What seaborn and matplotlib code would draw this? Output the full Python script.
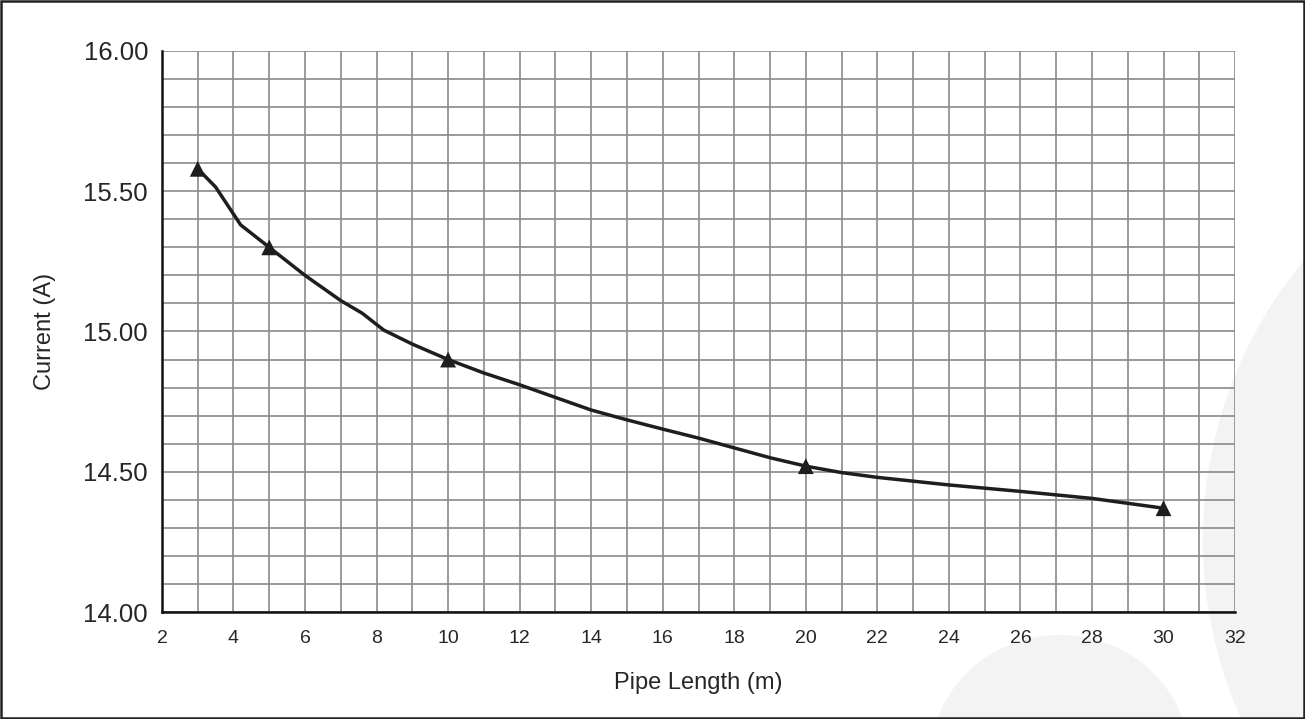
import numpy as np
import pandas as pd
import seaborn as sns
import matplotlib.pyplot as plt
from matplotlib.patches import Rectangle, Ellipse
from matplotlib.ticker import MultipleLocator

sns.set_style('white')
plt.rcParams['font.family'] = ['Liberation Sans', 'DejaVu Sans']

# measured points (triangle markers)
pipe_length = [3, 5, 10, 20, 30]
current = [15.58, 15.30, 14.90, 14.52, 14.37]

# smoothed curve as drawn in the reference
curve_x = [3, 3.5, 4.2, 5, 6, 7, 7.6, 8.2, 9, 10, 11, 12, 13, 14, 15, 16,
           17, 18, 19, 20, 21, 22, 24, 26, 28, 30]
curve_y = [15.58, 15.515, 15.38, 15.30, 15.20, 15.11, 15.065, 15.005, 14.955,
           14.90, 14.852, 14.81, 14.765, 14.72, 14.685, 14.652, 14.62, 14.585,
           14.55, 14.52, 14.497, 14.48, 14.453, 14.43, 14.405, 14.37]

x_ticks = list(range(2, 33, 2))
y_ticks = [14.0, 14.5, 15.0, 15.5, 16.0]

fig = plt.figure(figsize=(13.05, 7.19), dpi=100)

# faint watermark shapes in the lower right corner
fig.patches.append(Ellipse((1.2567, 0.249), 0.670, 1.2156, transform=fig.transFigure,
                           facecolor='#f3f3f3', edgecolor='none', zorder=-5))
fig.patches.append(Ellipse((0.8123, -0.057), 0.1992, 0.3477, transform=fig.transFigure,
                           facecolor='#f3f3f3', edgecolor='none', zorder=-5))

ax = fig.add_axes([0.1241, 0.1488, 0.8223, 0.7803])
ax.set_facecolor('none')

sns.lineplot(x=curve_x, y=curve_y, ax=ax, color='#1e1e1e', linewidth=2.5,
             sort=False, zorder=3)
sns.scatterplot(x=pipe_length, y=current, ax=ax, marker='^', color='#1e1e1e',
                s=130, edgecolor='none', zorder=4)

ax.set_xlim(2, 32)
ax.set_ylim(14.0, 16.0)
ax.set_xticks(x_ticks)
ax.set_yticks(y_ticks)
ax.set_yticklabels([f'{v:.2f}' for v in y_ticks])
ax.xaxis.set_minor_locator(MultipleLocator(1))
ax.yaxis.set_minor_locator(MultipleLocator(0.1))
ax.grid(True, which='both', color='#8a8a8a', linewidth=1.2)
ax.set_axisbelow(True)

for side in ['top', 'right']:
    ax.spines[side].set_visible(False)
for side in ['left', 'bottom']:
    ax.spines[side].set_color('#111111')
    ax.spines[side].set_linewidth(1.8)

ax.tick_params(axis='both', which='major', direction='out', length=7,
               width=1.0, color='#777777')
ax.tick_params(axis='both', which='minor', length=0)
ax.tick_params(axis='y', labelsize=18.5, pad=3)
ax.tick_params(axis='x', labelsize=14, pad=6)

ax.set_xlabel('Pipe Length (m)', fontsize=17, labelpad=18)
ax.set_ylabel('Current (A)', fontsize=17, labelpad=20)

# outer frame of the figure
fig.patches.append(Rectangle((0.001, 0.002), 0.998, 0.996, transform=fig.transFigure,
                             fill=False, edgecolor='#222222', linewidth=1.8, zorder=10))

fig.savefig('out.png', dpi=100)
